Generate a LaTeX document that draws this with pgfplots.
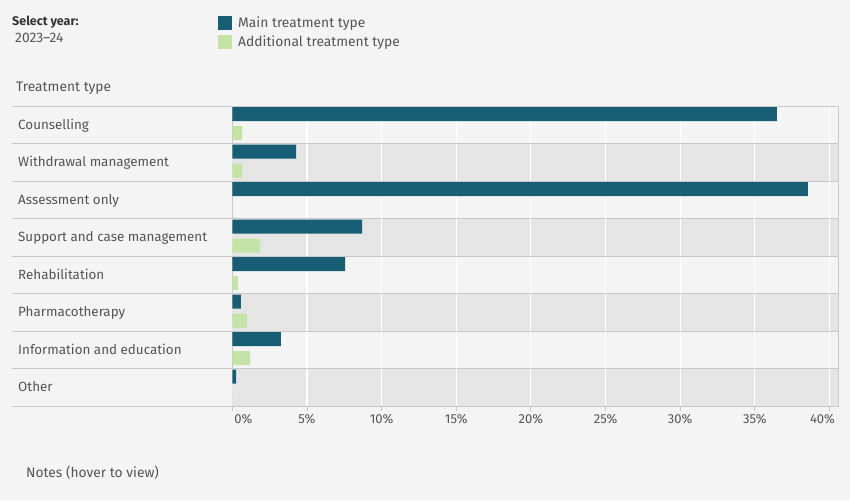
\documentclass[border=0pt]{standalone}
\usepackage{fontspec}
\setmainfont{Fira Sans}
\usepackage{pgfplots}
\usepackage{pgfplotstable}
\pgfplotsset{compat=1.18}
\definecolor{bg}{HTML}{F4F4F4}
\definecolor{rowgray}{HTML}{E5E5E5}
\definecolor{linegray}{HTML}{C8C8C8}
\definecolor{mainc}{HTML}{175D73}
\definecolor{addc}{HTML}{C4E3A6}
\definecolor{txt}{HTML}{555555}
\definecolor{dtxt}{HTML}{333333}

% row index: 7 = Counselling (top) ... 0 = Other (bottom)
\pgfplotstableread{
y main add
7 36.48 0.65
6 4.27 0.65
5 38.56 0
4 8.69 1.86
3 7.55 0.38
2 0.58 0.98
1 3.26 1.19
0 0.25 0
}\datatable

\begin{document}
\begin{tikzpicture}[x=1pt,y=1pt]
\fill[bg] (0,0) rectangle (850,-500);
\node[anchor=west, inner sep=0pt, text=dtxt, font=\fontsize{12.5}{14}\selectfont\bfseries] at (12,-22) {Select year:};
\node[anchor=west, inner sep=0pt, text=txt, font=\fontsize{13.8}{15}\selectfont] at (15,-38) {2023–24};
\node[anchor=west, inner sep=0pt, text=txt, font=\fontsize{13.8}{15}\selectfont] at (16,-88) {Treatment type};
\node[anchor=west, inner sep=0pt, text=txt, font=\fontsize{13.8}{15}\selectfont] at (26,-473) {Notes (hover to view)};
\begin{axis}[
  at={(232.3pt,-406pt)}, anchor=south west,
  scale only axis, width=605.7pt, height=300pt,
  clip=false,
  xmin=0, xmax=40.57, ymin=-0.5, ymax=7.5,
  xbar, bar width=0.373,
  axis line style={draw=linegray, line width=0.8pt},
  xtick={0,5,...,40},
  xticklabels={\makebox[0pt]{\hspace{22pt}0\%},5\%,10\%,15\%,20\%,25\%,30\%,35\%,\makebox[0pt]{\hspace{-14pt}40\%}},
  xtick pos=bottom, tick align=outside, major tick length=5pt,
  xtick style={draw=linegray, line width=0.8pt},
  xticklabel style={text=txt, font=\fontsize{13}{15}\selectfont},
  ytick={0,...,7},
  yticklabels={Other,Information and education,Pharmacotherapy,Rehabilitation,Support and case management,Assessment only,Withdrawal management,Counselling},
  ytick style={draw=none},
  yticklabel style={anchor=base west, inner sep=0pt, xshift=-209.3pt, yshift=-4.6pt, text=txt, font=\fontsize{13.4}{16}\selectfont},
  legend style={at={(axis description cs:-0.0236,1.3013)}, anchor=north west, draw=none, fill=none, inner sep=0pt, row sep=5.5pt,
    font=\fontsize{13.8}{15}\selectfont, text=txt, nodes={inner sep=0pt, anchor=west}},
  legend cell align=left,
  legend image code/.code={\fill[#1] (0pt,-7pt) rectangle (14pt,7pt);},
]
\fill[rowgray] (axis cs:0,5.5) rectangle (axis cs:40.57,6.5);
\fill[rowgray] (axis cs:0,3.5) rectangle (axis cs:40.57,4.5);
\fill[rowgray] (axis cs:0,1.5) rectangle (axis cs:40.57,2.5);
\fill[rowgray] (axis cs:0,-0.5) rectangle (axis cs:40.57,0.5);
\foreach \g in {5,10,...,40} {
  \edef\temp{\noexpand\draw[white, line width=1.2pt] (axis cs:\g,-0.5) -- (axis cs:\g,7.5);}
  \temp
}
\addplot[fill=mainc, draw=none, bar shift=0.281] table[x=main, y=y] {\datatable};
\addlegendentry{\hspace{6pt}Main treatment type}
\addplot[fill=addc, draw=none, bar shift=-0.223] table[x=add, y=y] {\datatable};
\addlegendentry{\hspace{6pt}Additional treatment type}
\foreach \k in {-0.5,0.5,...,7.5} {
  \edef\temp{\noexpand\draw[linegray, line width=0.8pt] ([xshift=-220.3pt]axis cs:0,\k) -- (axis cs:40.57,\k);}
  \temp
}
\end{axis}
\end{tikzpicture}
\end{document}
